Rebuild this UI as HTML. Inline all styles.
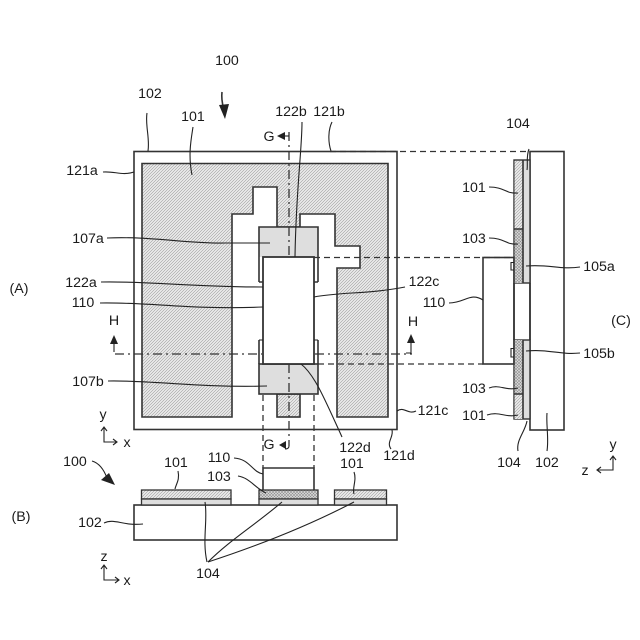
<!DOCTYPE html>
<html>
<head>
<meta charset="utf-8">
<style>
html,body{margin:0;padding:0;background:#fff;width:640px;height:640px;overflow:hidden}
svg{display:block}
text{font-family:"Liberation Sans",sans-serif;font-size:14.2px;fill:#1a1a1a;text-anchor:middle}
.o{fill:none;stroke:#333;stroke-width:1.6}
.l{fill:none;stroke:#222;stroke-width:1.1}
.d{fill:none;stroke:#333;stroke-width:1.3;stroke-dasharray:6 4}
.dd{fill:none;stroke:#333;stroke-width:1.3;stroke-dasharray:9 4 2 4}
</style>
</head>
<body>
<svg width="640" height="640" viewBox="0 0 640 640" xmlns="http://www.w3.org/2000/svg">
<defs>
<pattern id="h" width="3" height="3" patternUnits="userSpaceOnUse">
<rect width="3" height="3" fill="#ececec"/>
<path d="M-1,1 L1,-1 M0,3 L3,0 M2,4 L4,2" stroke="#9a9a9a" stroke-width=".55"/>
</pattern>
<pattern id="x" width="3" height="3" patternUnits="userSpaceOnUse">
<rect width="3" height="3" fill="#dcdcdc"/>
<path d="M0,3 L3,0 M0,0 L3,3" stroke="#8c8c8c" stroke-width=".55"/>
</pattern>
</defs>

<!-- View A -->
<rect x="134" y="151.500" width="263" height="278" class="o" fill="#fff"/>
<path d="M142,163.500H388V417H337V268H360V246H335V214H300V227H277V187H253V214H232V417H142Z" fill="url(#h)" stroke="#333" stroke-width="1.6"/>
<rect x="277" y="394" width="23" height="23" fill="url(#h)" stroke="#333" stroke-width="1.6"/>
<rect x="259" y="227" width="59" height="30" fill="#dedede"/>
<path d="M259,282V227H318V282" class="o"/>
<rect x="259" y="364" width="59" height="30" fill="#dedede" stroke="#333" stroke-width="1.6"/>
<rect x="263" y="257" width="51" height="107" fill="#fff" stroke="#333" stroke-width="1.8"/>
<path d="M259,340V364M318,340V364" class="o"/>
<path d="M259,340H263M318,340H314" class="l"/>
<path d="M259,282H263M318,282H314" class="o"/>

<path d="M289,132V257M289,364V446" class="dd"/>
<path d="M115,354H262M315,354H412" class="dd"/>
<path d="M330,151.500H530" class="d"/>
<path d="M314,257.500H515" class="d"/>
<path d="M318,364H483" class="d"/>
<path d="M263,395V468M314,395V468" class="d"/>
<path d="M289,446Q289,449 285,449" class="l"/>

<!-- View B -->
<rect x="134" y="505" width="263" height="35" class="o" fill="#fff"/>
<rect x="141.500" y="490" width="89.500" height="9" fill="url(#h)" stroke="#333" stroke-width="1.3"/>
<rect x="141.500" y="499" width="89.500" height="6" fill="#dedede" stroke="#333" stroke-width="1.3"/>
<rect x="259" y="490" width="59" height="9" fill="url(#x)" stroke="#333" stroke-width="1.3"/>
<rect x="259" y="499" width="59" height="6" fill="#dedede" stroke="#333" stroke-width="1.3"/>
<rect x="334.500" y="490" width="52" height="9" fill="url(#h)" stroke="#333" stroke-width="1.3"/>
<rect x="334.500" y="499" width="52" height="6" fill="#dedede" stroke="#333" stroke-width="1.3"/>
<path d="M263,490V468H314V490" class="o"/>

<!-- View C -->
<rect x="530" y="151.500" width="34" height="278.500" class="o" fill="#fff"/>
<rect x="514" y="160" width="16" height="123" fill="#dedede" stroke="#333" stroke-width="1.4"/>
<rect x="514" y="340" width="16" height="79" fill="#dedede" stroke="#333" stroke-width="1.4"/>
<rect x="514.500" y="161" width="8.500" height="68" fill="url(#h)"/>
<rect x="514.500" y="229" width="8.500" height="54" fill="url(#x)"/>
<rect x="514.500" y="340" width="8.500" height="54" fill="url(#x)"/>
<rect x="514.500" y="394" width="8.500" height="25" fill="url(#h)"/>
<path d="M523,160V283M523,340V419M514,229H523M514,394H523" class="o" stroke-width="1.2"/>
<path d="M514,283V340M530,283V340" class="o"/>
<rect x="483" y="257.500" width="31" height="106.500" class="o" fill="#fff"/>
<path d="M514,262.500H511V270H514M514,348.500H511V357H514" class="l"/>

<!-- Leaders -->
<g class="l">
<path d="M147,113C145,125 150,138 148,151"/>
<path d="M193,127C191,140 188,155 192,175"/>
<path d="M302,122C302,150 296,190 295,257"/>
<path d="M332,122C328,130 328,142 331,151"/>
<path d="M103,172C115,171 122,176 134,172"/>
<path d="M107,238C150,236 190,244 225,243L270,243"/>
<path d="M101,282C150,281 190,287 263,287"/>
<path d="M100,303C150,302 190,310 263,307"/>
<path d="M108,381C150,380 200,388 267,386"/>
<path d="M314,297C340,292 370,294 405,287"/>
<path d="M301,364C315,375 325,400 342,437"/>
<path d="M397,411C404,406 408,415 416,411"/>
<path d="M392,430C394,437 386,442 391,449"/>
<path d="M529,149C526,156 528,165 527,170"/>
<path d="M489,187C505,187 505,194 518,193"/>
<path d="M489,238C505,238 505,245 518,244"/>
<path d="M449,303C465,303 470,292 483,300"/>
<path d="M489,388C500,384 505,391 518,388"/>
<path d="M487,415C500,411 505,418 518,415"/>
<path d="M526,266C550,264 560,270 580,267"/>
<path d="M526,351C550,349 560,355 580,353"/>
<path d="M527,421C525,432 516,440 518,451"/>
<path d="M547,413C546,425 549,438 547,451"/>
<path d="M104,523C115,518 122,526 143,524"/>
<path d="M178,471C180,480 176,484 175,489"/>
<path d="M234,458C250,459 252,472 263,474"/>
<path d="M238,476C250,478 255,488 266,493"/>
<path d="M354,472C357,480 352,488 354,494"/>
<path d="M205,502C208,520 202,540 207,562"/>
<path d="M208,562C230,540 255,525 282,502"/>
<path d="M208,562C260,545 310,525 354,502"/>
</g>

<!-- Big arrows -->
<path d="M222,92C221,100 223,106 224,110" class="o" stroke-width="1.5"/>
<path d="M219,105L229,104L225,119Z" fill="#222"/>
<path d="M92,461C99,463 104,470 107,478" class="l" stroke-width="1.4"/>
<path d="M101,480L109,473L115,485Z" fill="#222"/>

<!-- Section arrows -->
<path d="M277,136L285,132V140Z" fill="#222"/>
<path d="M285,136H289" class="l"/>
<path d="M279,445L286,441V449Z" fill="#222"/>
<path d="M114,335L110,344H118Z" fill="#222"/>
<path d="M114,344V352" class="l"/>
<path d="M411,334L407,343H415Z" fill="#222"/>
<path d="M411,343V353H406" class="l"/>

<!-- Axes -->
<path d="M104,427V442H117M101,431L104,427L107,431M113,439L117,442L113,445" class="l"/>
<path d="M104,565V580H119M101,569L104,565L107,569M115,577L119,580L115,583" class="l"/>
<path d="M613,456V470H597M610,460L613,456L616,460M601,467L597,470L601,473" class="l"/>

<!-- Labels -->
<text x="227" y="65">100</text>
<text x="150" y="98">102</text>
<text x="193" y="121">101</text>
<text x="291" y="116">122b</text>
<text x="329" y="116">121b</text>
<text x="269" y="141">G</text>
<text x="82" y="175">121a</text>
<text x="88" y="243">107a</text>
<text x="19" y="293">(A)</text>
<text x="81" y="287">122a</text>
<text x="83" y="307">110</text>
<text x="114" y="325">H</text>
<text x="413" y="326">H</text>
<text x="424" y="286">122c</text>
<text x="88" y="386">107b</text>
<text x="355" y="452">122d</text>
<text x="433" y="415">121c</text>
<text x="399" y="460">121d</text>
<text x="269" y="449">G</text>
<text x="103" y="419">y</text>
<text x="127" y="447">x</text>
<text x="518" y="128">104</text>
<text x="474" y="192">101</text>
<text x="474" y="243">103</text>
<text x="599" y="271">105a</text>
<text x="434" y="307">110</text>
<text x="621" y="325">(C)</text>
<text x="599" y="358">105b</text>
<text x="474" y="393">103</text>
<text x="474" y="420">101</text>
<text x="509" y="467">104</text>
<text x="547" y="467">102</text>
<text x="613" y="449">y</text>
<text x="585" y="475">z</text>
<text x="75" y="466">100</text>
<text x="176" y="467">101</text>
<text x="219" y="462">110</text>
<text x="219" y="481">103</text>
<text x="352" y="468">101</text>
<text x="21" y="521">(B)</text>
<text x="90" y="527">102</text>
<text x="208" y="578">104</text>
<text x="104" y="561">z</text>
<text x="127" y="585">x</text>
</svg>
</body>
</html>
